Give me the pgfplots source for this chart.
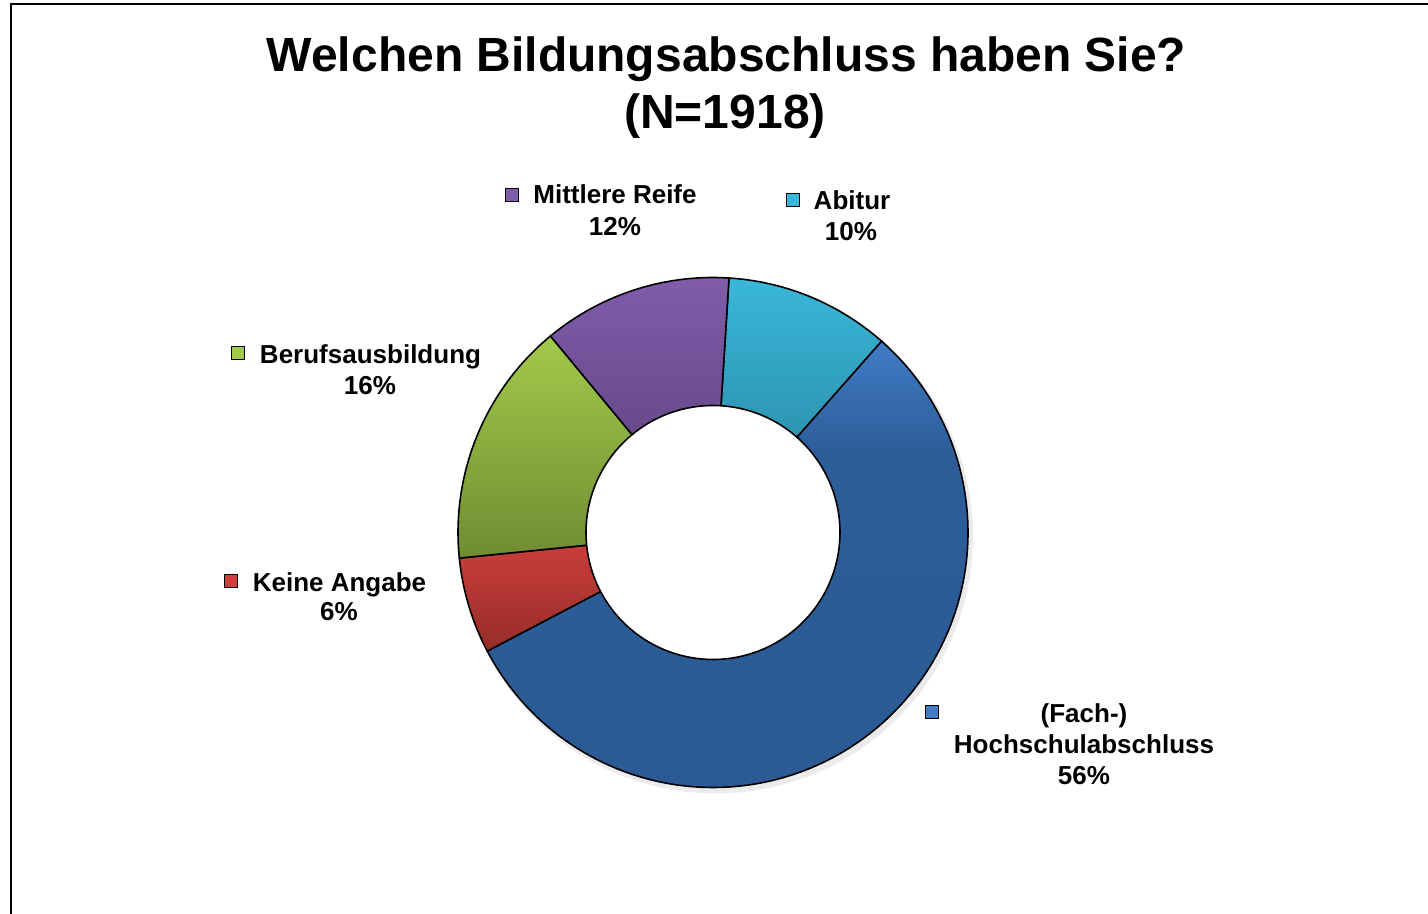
\documentclass[border=0pt]{standalone}
\usepackage{pgfplots}
\pgfplotsset{compat=1.18}
\usepackage{pgfplotstable}
\usepackage{fontspec}
\setmainfont{Liberation Sans}

\definecolor{hsTop}{RGB}{64,124,198}
\definecolor{hsMid}{RGB}{45,94,154}
\definecolor{hsBot}{RGB}{43,90,148}
\definecolor{abTop}{RGB}{57,183,218}
\definecolor{abBot}{RGB}{38,128,152}
\definecolor{mrTop}{RGB}{128,92,170}
\definecolor{mrBot}{RGB}{88,62,120}
\definecolor{beTop}{RGB}{162,202,74}
\definecolor{beBot}{RGB}{112,140,50}
\definecolor{keTop}{RGB}{207,64,61}
\definecolor{keBot}{RGB}{150,44,41}
\pgfdeclareverticalshading{hsshade}{100bp}{color(0bp)=(hsBot); color(25bp)=(hsBot); color(63bp)=(hsMid); color(75bp)=(hsTop); color(100bp)=(hsTop)}

% shares in percent, clockwise from the top
\pgfplotstableread{
label value
Abitur 10.5
Hochschulabschluss 55.8
KeineAngabe 6.1
Berufsausbildung 15.6
MittlereReife 12.0
}\donutdata

\begin{document}
\begin{tikzpicture}
\useasboundingbox (0,0) rectangle (714pt,457pt);
\pgfplotstablegetelem{0}{value}\of\donutdata \let\vA\pgfplotsretval
\pgfplotstablegetelem{1}{value}\of\donutdata \let\vB\pgfplotsretval
\pgfplotstablegetelem{2}{value}\of\donutdata \let\vC\pgfplotsretval
\pgfplotstablegetelem{3}{value}\of\donutdata \let\vD\pgfplotsretval
\pgfplotstablegetelem{4}{value}\of\donutdata \let\vE\pgfplotsretval
\pgfmathsetmacro\aO{86.4}
\pgfmathsetmacro\aA{\aO-3.6*\vA}
\pgfmathsetmacro\aB{\aA-3.6*\vB}
\pgfmathsetmacro\aC{\aB-3.6*\vC}
\pgfmathsetmacro\aD{\aC-3.6*\vD}
\pgfmathsetmacro\aE{\aD-3.6*\vE}
\def\cx{713}\def\cy{381.5}\def\R{255}\def\r{127}
\begin{axis}[width=714pt,height=457pt,scale only axis,
  xmin=0,xmax=1428,ymin=0,ymax=914,hide axis,clip=false]
% soft shadow
\addplot[draw=none,fill=black!8,domain=0:360,samples=120]
  ({\cx+3+(\R+2)*cos(x)},{\cy-4+(\R+2)*sin(x)}) -- cycle;
% slices
\addplot[draw=black,line width=0.8pt,top color=abTop,bottom color=abBot,domain=\aA:\aO,samples=40]
  ({\cx+\R*cos(x)},{\cy+\R*sin(x)}) -- (axis cs:\cx,\cy) -- cycle;
\addplot[draw=black,line width=0.8pt,shading=hsshade,domain=\aB:\aA,samples=150]
  ({\cx+\R*cos(x)},{\cy+\R*sin(x)}) -- (axis cs:\cx,\cy) -- cycle;
\addplot[draw=black,line width=0.8pt,top color=keTop,bottom color=keBot,domain=\aC:\aB,samples=30]
  ({\cx+\R*cos(x)},{\cy+\R*sin(x)}) -- (axis cs:\cx,\cy) -- cycle;
\addplot[draw=black,line width=0.8pt,top color=beTop,bottom color=beBot,domain=\aD:\aC,samples=50]
  ({\cx+\R*cos(x)},{\cy+\R*sin(x)}) -- (axis cs:\cx,\cy) -- cycle;
\addplot[draw=black,line width=0.8pt,top color=mrTop,bottom color=mrBot,domain=\aE:\aD,samples=40]
  ({\cx+\R*cos(x)},{\cy+\R*sin(x)}) -- (axis cs:\cx,\cy) -- cycle;
% hole
\addplot[draw=black,line width=0.8pt,fill=white,domain=0:360,samples=150]
  ({\cx+\r*cos(x)},{\cy+\r*sin(x)}) -- cycle;

% frame
\draw[line width=1.1pt] (axis cs:11,-20) -- (axis cs:11,910) -- (axis cs:1450,910);

% title
\node[font=\fontsize{24}{28}\selectfont\bfseries,anchor=base,inner sep=0pt] at (axis cs:726.5,842.5) {Welchen Bildungsabschluss haben Sie?};
\node[font=\fontsize{24}{28}\selectfont\bfseries,anchor=base,inner sep=0pt] at (axis cs:725,785) {(N=1918)};

% labels
\tikzset{lab/.style={font=\fontsize{13}{15.5}\selectfont\bfseries,anchor=base,inner sep=0pt},
         key/.style={draw=black,line width=0.8pt}}
\draw[key,fill=mrTop] (axis cs:505.5,712.5) rectangle (axis cs:518.5,725.5);
\node[lab] at (axis cs:615,710) {Mittlere Reife};
\node[lab] at (axis cs:615,678) {12\%};

\draw[key,fill=abTop] (axis cs:786.5,707.5) rectangle (axis cs:799.5,720.5);
\node[lab] at (axis cs:852,704) {Abitur};
\node[lab] at (axis cs:851,673) {10\%};

\draw[key,fill=beTop] (axis cs:231.5,554.5) rectangle (axis cs:244.5,567.5);
\node[lab] at (axis cs:370.5,550) {Berufsausbildung};
\node[lab] at (axis cs:370,519) {16\%};

\draw[key,fill=keTop] (axis cs:224.5,326.5) rectangle (axis cs:237.5,339.5);
\node[lab] at (axis cs:339.5,322) {Keine Angabe};
\node[lab] at (axis cs:339,293) {6\%};

\draw[key,fill=hsTop] (axis cs:925.5,195.5) rectangle (axis cs:938.5,208.5);
\node[lab] at (axis cs:1084,191) {(Fach-)};
\node[lab] at (axis cs:1084,160) {Hochschulabschluss};
\node[lab] at (axis cs:1084,129) {56\%};
\end{axis}
\end{tikzpicture}
\end{document}
